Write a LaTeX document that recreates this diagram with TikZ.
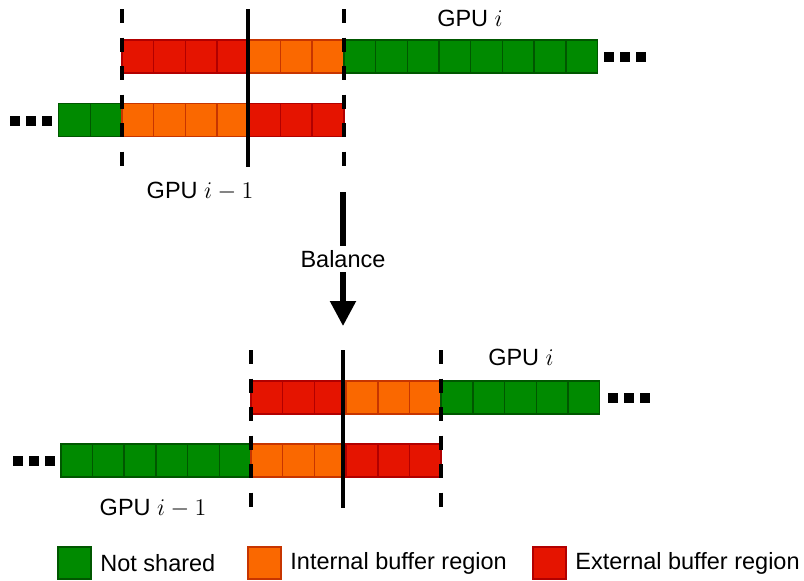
\documentclass[tikz,border=0pt]{standalone}
\usepackage{fontspec}
\setmainfont{Liberation Sans}
\usetikzlibrary{arrows.meta}
\definecolor{nsfill}{HTML}{008A00}
\definecolor{nsline}{HTML}{005700}
\definecolor{intfill}{HTML}{FA6800}
\definecolor{intline}{HTML}{C73500}
\definecolor{extfill}{HTML}{E51400}
\definecolor{extline}{HTML}{B20000}
\newcommand{\cellw}{31.7}
\tikzset{
  >={Triangle[width=12.5pt,length=12.5pt]},
  font=\fontsize{11.75}{14}\selectfont,
  cell/.style={draw=#1line,fill=#1fill,line width=0.75pt},
  cut/.style={line width=2pt,draw=black},
  bufcut/.style={cut,dash pattern=on 7pt off 7.25pt},
  dotsq/.style={fill=black},
  lbl/.style={inner sep=0pt},
  balarrow/.style={->,line width=2.6pt},
}

\begin{document}
\begin{tikzpicture}[x=0.5pt,y=-0.5pt]
  \useasboundingbox (0,0) rectangle (804,580);

  % ---- before balancing ----
  \foreach \s [count=\k from 0] in {ext,ext,ext,ext,int,int,int,ns,ns,ns,ns,ns,ns,ns,ns}
    \draw[cell=\s] ({122+\k*\cellw},40) rectangle ++(\cellw,33);
  \foreach \s [count=\k from 0] in {ns,ns,int,int,int,int,ext,ext,ext}
    \draw[cell=\s] ({58.6+\k*\cellw},103.5) rectangle ++(\cellw,33);
  \foreach \d in {0,1,2}{
    \fill[dotsq] ({604+\d*16},52) rectangle ++(9.5,9.5);
    \fill[dotsq] ({10+\d*16},116) rectangle ++(9.5,9.5);
  }
  % buffer borders and split point
  \draw[bufcut] (122,9) -- (122,166);
  \draw[bufcut] (344,9) -- (344,166);
  \draw[cut] (248,9) -- (248,167);
  \node[lbl] (gpuA) at (470,18) {GPU $i$};
  \node[lbl] (gpuAprev) at (200,191) {GPU $i-1$};

  % ---- balance step ----
  \coordinate (balTop) at (343,192);
  \coordinate (balEnd) at (343,326);
  \draw[balarrow] (balTop) -- node[fill=white,inner sep=2pt] (bal) {Balance} (balEnd);

  % ---- after balancing ----
  \foreach \s [count=\k from 0] in {ext,ext,ext,int,int,int,ns,ns,ns,ns,ns}
    \draw[cell=\s] ({251+\k*\cellw},381) rectangle ++(\cellw,33);
  \foreach \s [count=\k from 0] in {ns,ns,ns,ns,ns,ns,int,int,int,ext,ext,ext}
    \draw[cell=\s] ({60.8+\k*\cellw},444) rectangle ++(\cellw,33);
  \foreach \d in {0,1,2}{
    \fill[dotsq] ({608+\d*16},393) rectangle ++(9.5,9.5);
    \fill[dotsq] ({13+\d*16},456) rectangle ++(9.5,9.5);
  }
  \draw[bufcut] (251,350) -- (251,507);
  \draw[bufcut] (441,350) -- (441,507);
  \draw[cut] (343,350) -- (343,508);
  \node[lbl] (gpuB) at (521,357) {GPU $i$};
  \node[lbl] (gpuBprev) at (153,508) {GPU $i-1$};

  % ---- legend ----
  \draw[cell=ns]  (58,547) rectangle ++(33,32);
  \node[lbl,anchor=west] (legNs) at (100,563) {Not shared};
  \draw[cell=int] (248,547) rectangle ++(33,32);
  \node[lbl,anchor=west] (legInt) at (290,563) {Internal buffer region};
  \draw[cell=ext] (533,547) rectangle ++(33,32);
  \node[lbl,anchor=west] (legExt) at (575,563) {External buffer region};
\end{tikzpicture}
\end{document}
